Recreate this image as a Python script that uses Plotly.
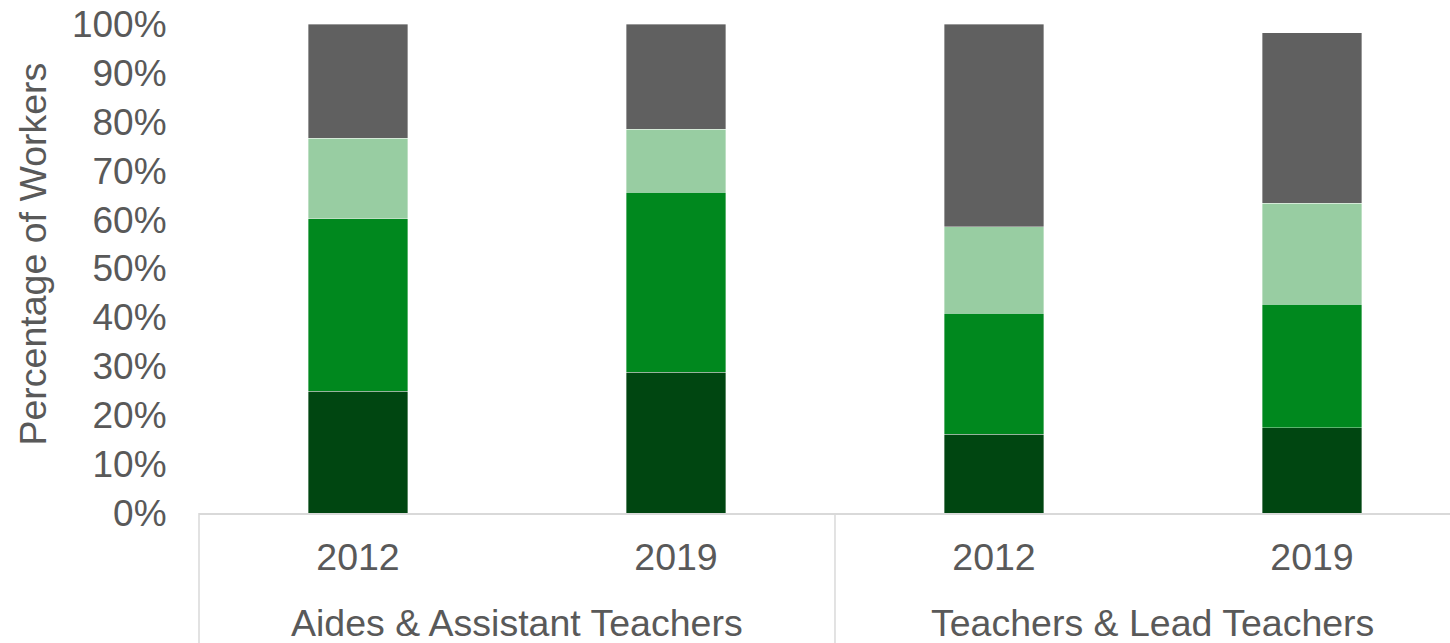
import plotly.graph_objects as go

groups = ["Aides & Assistant Teachers", "Aides & Assistant Teachers",
          "Teachers & Lead Teachers", "Teachers & Lead Teachers"]
years = ["2012", "2019", "2012", "2019"]

series_names = ["Segment 1", "Segment 2", "Segment 3", "Segment 4"]
seg1 = [24.9, 28.8, 16.1, 17.4]
seg2 = [35.3, 36.8, 24.8, 25.3]
seg3 = [16.4, 12.9, 17.6, 20.6]
seg4 = [23.4, 21.5, 41.5, 34.9]
colors = ["#004611", "#00881E", "#98CDA2", "#606060"]

y_ticks = [0, 10, 20, 30, 40, 50, 60, 70, 80, 90, 100]
y_tick_text = [f"{v}%" for v in y_ticks]
y_title = "Percentage of Workers"

FONT = "Liberation Sans, Arial, sans-serif"
TXT = "#595959"
LINE = "#D9D9D9"

W, H = 1450, 643
ML, MR, MT, MB = 199, 0, 24, 130
X_RANGE = [-0.5, 3.434]

x_keys = [f"{g} | {y}" for g, y in zip(groups, years)]

fig = go.Figure()
for name, vals, col in zip(series_names, [seg1, seg2, seg3, seg4], colors):
    fig.add_trace(go.Bar(
        x=x_keys, y=vals, name=name,
        marker=dict(color=col, line=dict(color="rgba(255,255,255,0.45)", width=0.8)),
    ))

# group labels and divider lines (positions derived from category indices)
group_names = list(dict.fromkeys(groups))
plot_h = H - MT - MB
span = X_RANGE[1] - X_RANGE[0]
boundaries = set()
for gname in group_names:
    idx = [i for i, g in enumerate(groups) if g == gname]
    center = sum(idx) / len(idx)
    fig.add_annotation(
        x=center, xref="x", y=0, yref="paper", yshift=-110,
        text=gname, showarrow=False, yanchor="middle", xanchor="center",
        font=dict(family=FONT, size=37.5, color=TXT),
    )
    boundaries.add(min(idx) - 0.5)
    boundaries.add(max(idx) + 0.5)
for b in sorted(boundaries):
    if X_RANGE[0] <= b <= X_RANGE[1]:
        xp = (b - X_RANGE[0]) / span
        fig.add_shape(type="line", xref="paper", yref="paper",
                      x0=xp, x1=xp, y0=0, y1=-(MB + 2) / plot_h,
                      line=dict(color=LINE, width=1.5), layer="below")

# y-axis title
fig.add_annotation(
    x=0, xref="paper", xshift=-167, y=0.5, yref="paper", yshift=14,
    text=y_title, textangle=-90, showarrow=False,
    xanchor="center", yanchor="middle",
    font=dict(family=FONT, size=37.5, color=TXT),
)

fig.update_layout(
    barmode="stack",
    bargap=0.686,
    width=W, height=H,
    margin=dict(l=ML, r=MR, t=MT, b=MB),
    paper_bgcolor="white", plot_bgcolor="white",
    showlegend=False,
    font=dict(family=FONT, size=37.5, color=TXT),
)
fig.update_xaxes(
    type="category",
    range=X_RANGE,
    tickvals=x_keys, ticktext=years,
    showline=True, linecolor=LINE, linewidth=1.5,
    showgrid=False, zeroline=False,
    tickfont=dict(family=FONT, size=37.5, color=TXT),
    ticks="", ticklabelstandoff=10,
    ticklabeloverflow="allow",
    automargin=False,
)
fig.update_yaxes(
    range=[0, 100],
    tickvals=y_ticks, ticktext=y_tick_text,
    showgrid=False, zeroline=False, showline=False,
    ticks="outside", ticklen=24, tickcolor="rgba(0,0,0,0)",
    tickfont=dict(family=FONT, size=37, color=TXT),
    ticklabeloverflow="allow",
    automargin=False,
)
fig.write_html(
    "out.html",
    config={"displayModeBar": False},
    post_script="document.body.style.margin='0';document.body.style.overflow='hidden';",
)
